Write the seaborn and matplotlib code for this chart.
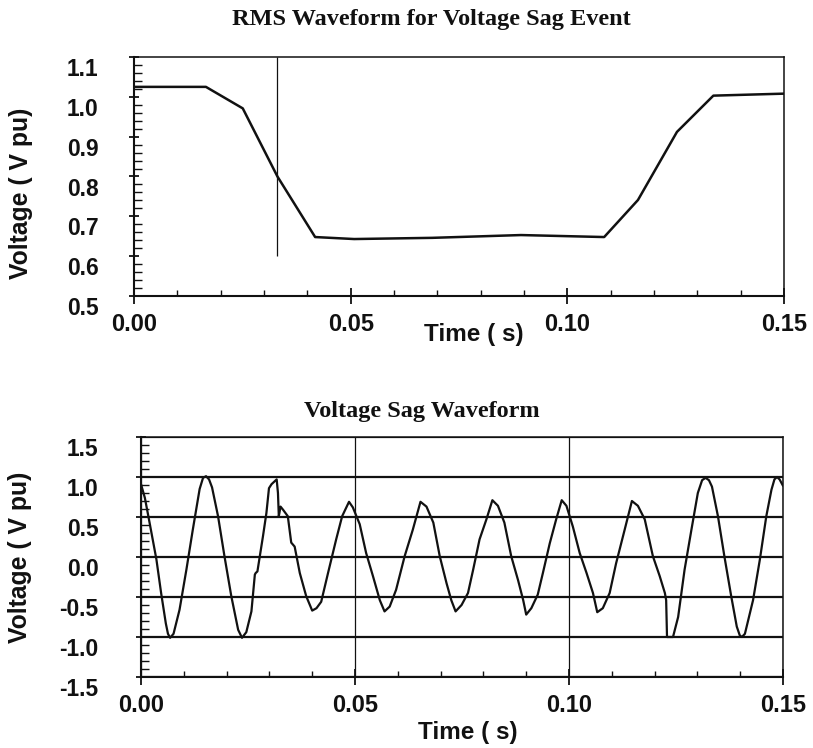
import matplotlib
matplotlib.use("Agg")
import matplotlib.pyplot as plt
from matplotlib import font_manager
from matplotlib.ticker import MultipleLocator, FixedLocator
from matplotlib.transforms import ScaledTranslation
import seaborn as sns
import pandas as pd

# ---- RMS trace (upper panel) ----
rms_time = [0.0, 0.0166, 0.0251, 0.0331, 0.0418, 0.0508, 0.0688, 0.0893,
            0.1085, 0.1163, 0.1253, 0.1337, 0.150]
rms_volt = [1.025, 1.025, 0.971, 0.800, 0.648, 0.643, 0.646, 0.653,
            0.648, 0.741, 0.912, 1.003, 1.008]
cursor_time = 0.0331
cursor_span = [0.6, 1.1]

# ---- instantaneous waveform (lower panel) ----
wave_time = [
    0.0000, 0.0009, 0.0020, 0.0036, 0.0047, 0.0058, 0.0063, 0.0068, 0.0076,
    0.0090, 0.0106, 0.0121, 0.0137, 0.0145, 0.0152, 0.0159, 0.0166, 0.0180,
    0.0195, 0.0211, 0.0227, 0.0236, 0.0246, 0.0258, 0.0266, 0.0268, 0.0272,
    0.0285, 0.0293, 0.0299, 0.0305, 0.0317, 0.0320, 0.0322, 0.0326, 0.0332,
    0.0343, 0.0351, 0.0359, 0.0371, 0.0386, 0.0400, 0.0410, 0.0421, 0.0437,
    0.0456, 0.0470, 0.0486, 0.0495, 0.0511, 0.0526, 0.0542, 0.0558, 0.0569,
    0.0581, 0.0596, 0.0616, 0.0635, 0.0653, 0.0667, 0.0683, 0.0698, 0.0714,
    0.0725, 0.0735, 0.0749, 0.0764, 0.0776, 0.0791, 0.0807, 0.0821, 0.0834,
    0.0849, 0.0865, 0.0881, 0.0893, 0.0900, 0.0912, 0.0927, 0.0939, 0.0955,
    0.0970, 0.0983, 0.0994, 0.1009, 0.1025, 0.1041, 0.1056, 0.1066, 0.1079,
    0.1095, 0.1110, 0.1130, 0.1147, 0.1161, 0.1177, 0.1196, 0.1212, 0.1224,
    0.1227, 0.1229, 0.1243, 0.1255, 0.1270, 0.1286, 0.1301, 0.1311, 0.1319,
    0.1327, 0.1334, 0.1348, 0.1363, 0.1379, 0.1392, 0.1399, 0.1404, 0.1411,
    0.1430, 0.1446, 0.1461, 0.1473, 0.1480, 0.1486, 0.1492, 0.1500,
]
wave_volt = [
    0.91, 0.74, 0.43, -0.03, -0.45, -0.83, -0.96, -1.01, -0.96,
    -0.66, -0.16, 0.34, 0.85, 0.99, 1.01, 0.97, 0.87, 0.51,
    0.01, -0.49, -0.91, -1.01, -0.94, -0.68, -0.22, -0.20, -0.18,
    0.26, 0.55, 0.86, 0.91, 0.97, 0.80, 0.51, 0.63, 0.59,
    0.51, 0.18, 0.13, -0.20, -0.49, -0.67, -0.64, -0.56, -0.20,
    0.22, 0.51, 0.69, 0.62, 0.41, 0.05, -0.24, -0.54, -0.68,
    -0.62, -0.41, 0.01, 0.34, 0.69, 0.63, 0.43, 0.01, -0.33,
    -0.54, -0.68, -0.60, -0.45, -0.16, 0.22, 0.47, 0.71, 0.64,
    0.43, 0.01, -0.29, -0.54, -0.72, -0.64, -0.47, -0.20, 0.17,
    0.47, 0.71, 0.64, 0.38, 0.05, -0.20, -0.45, -0.69, -0.64,
    -0.45, -0.08, 0.34, 0.70, 0.64, 0.47, 0.01, -0.24, -0.45,
    -0.54, -1.00, -1.00, -0.75, -0.16, 0.34, 0.80, 0.96, 0.99,
    0.96, 0.88, 0.51, 0.01, -0.49, -0.87, -0.98, -1.00, -0.96,
    -0.54, -0.03, 0.51, 0.84, 0.97, 1.00, 0.97, 0.89,
]

time_ticks = [0.00, 0.05, 0.10, 0.15]
time_labels = ["0.00", "0.05", "0.10", "0.15"]
rms_ticks = [0.5, 0.6, 0.7, 0.8, 0.9, 1.0, 1.1]
rms_labels = ["0.5", "0.6", "0.7", "0.8", "0.9", "1.0", "1.1"]
wave_ticks = [-1.5, -1.0, -0.5, 0.0, 0.5, 1.0, 1.5]
wave_labels = ["-1.5", "-1.0", "-0.5", "0.0", "0.5", "1.0", "1.5"]

sns.set_style("white")
installed = {f.name for f in font_manager.fontManager.ttflist}
narrow = "Liberation Sans Narrow" if "Liberation Sans Narrow" in installed else "Liberation Sans"
plt.rcParams["font.family"] = ["Liberation Sans", "DejaVu Sans"]
plt.rcParams["axes.unicode_minus"] = False

INK = "#111111"
W, H = 813, 748
fig = plt.figure(figsize=(W / 100, H / 100), dpi=100)
ax1 = fig.add_axes([134 / W, 1 - 296 / H, 650 / W, 239 / H])
ax2 = fig.add_axes([141 / W, 1 - 677 / H, 642 / W, 240 / H])

rms_df = pd.DataFrame({"time": rms_time, "volt": rms_volt})
wave_df = pd.DataFrame({"time": wave_time, "volt": wave_volt})

sns.lineplot(data=rms_df, x="time", y="volt", ax=ax1, color=INK, lw=1.8,
             sort=False, estimator=None)
ax1.vlines(cursor_time, cursor_span[0], cursor_span[1], color=INK, lw=0.9)

sns.lineplot(data=wave_df, x="time", y="volt", ax=ax2, color=INK, lw=1.6,
             sort=False, estimator=None)

ax1.set_xlim(0, 0.15)
ax1.set_ylim(0.5, 1.1)
ax2.set_xlim(0, 0.15)
ax2.set_ylim(-1.5, 1.5)

# panel titles, set in a bold serif face
serif = ["Liberation Serif", "DejaVu Serif"]
fig.text(431.5 / W, 1 - 19 / H, "RMS Waveform for Voltage Sag Event",
         fontfamily=serif, fontweight="bold", fontsize=17.5,
         ha="center", va="center", color=INK)
fig.text(421.7 / W, 1 - 412 / H, "Voltage Sag Waveform",
         fontfamily=serif, fontweight="bold", fontsize=17.5,
         ha="center", va="center", color=INK)

for ax, yt, yl, ypad, xlab_xy, ylab_xy, minor_y in [
    (ax1, rms_ticks, rms_labels, 22, (0.523, -0.159), (-0.174, 0.431), 0.02),
    (ax2, wave_ticks, wave_labels, 27, (0.509, -0.233), (-0.188, 0.497), 0.1),
]:
    ax.xaxis.set_major_locator(FixedLocator(time_ticks))
    ax.set_xticklabels(time_labels)
    ax.xaxis.set_minor_locator(MultipleLocator(0.01))
    ax.yaxis.set_major_locator(FixedLocator(yt))
    ax.set_yticklabels(yl)
    ax.yaxis.set_minor_locator(MultipleLocator(minor_y))

    ax.tick_params(axis="x", which="major", direction="inout", length=11.5,
                   width=1.3, color=INK, pad=6.5, bottom=True, top=False)
    ax.tick_params(axis="x", which="minor", direction="in", length=4.5,
                   width=1.0, color=INK, bottom=True, top=False)
    ax.tick_params(axis="y", which="major", direction="inout", length=7,
                   width=1.3, color=INK, pad=ypad, left=True, right=False)
    ax.tick_params(axis="y", which="minor", direction="in", length=5.5,
                   width=1.0, color=INK, left=True, right=False)

    for lab in ax.get_xticklabels():
        lab.set_fontfamily([narrow, "DejaVu Sans"])
        lab.set_fontweight("bold")
        lab.set_fontsize(17)
        lab.set_color(INK)
    shift = ScaledTranslation(0, -0.10, fig.dpi_scale_trans)
    for lab in ax.get_yticklabels():
        lab.set_fontweight("bold")
        lab.set_fontsize(16.4)
        lab.set_color(INK)
        lab.set_transform(lab.get_transform() + shift)

    ax.set_xlabel("Time ( s)", fontfamily=[narrow, "DejaVu Sans"],
                  fontweight="bold", fontsize=17.5, color=INK, va="center")
    ax.xaxis.set_label_coords(*xlab_xy)
    ax.set_ylabel("Voltage ( V pu)", fontweight="bold", fontsize=17.8,
                  color=INK, va="center")
    ax.yaxis.set_label_coords(*ylab_xy)

    for side in ["left", "bottom"]:
        ax.spines[side].set_linewidth(1.5)
        ax.spines[side].set_color(INK)
    for side in ["top", "right"]:
        ax.spines[side].set_linewidth(1.1)
        ax.spines[side].set_color(INK)

# horizontal reference lines on the waveform panel, thin verticals at the time marks
ax2.yaxis.grid(True, which="major", color=INK, lw=1.6)
ax2.xaxis.grid(True, which="major", color=INK, lw=0.9)
ax2.set_axisbelow(True)

fig.savefig("out.png", dpi=100, facecolor="white")
